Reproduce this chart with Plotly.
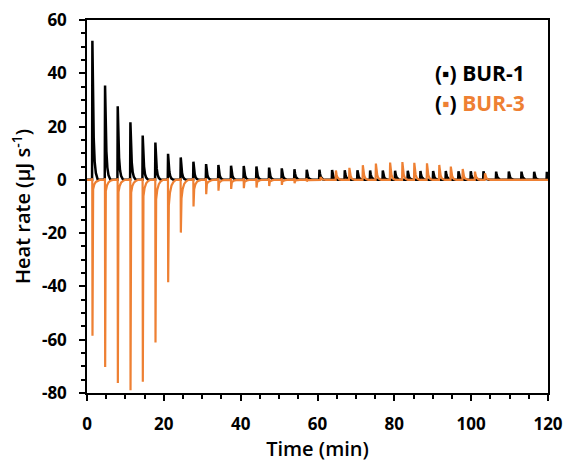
import plotly.graph_objects as go

# ---- data ----
# BUR-1 (black): injection times (min) and peak heights (µJ/s)
bur1_times = [1.4, 4.7, 8.0, 11.3, 14.5, 17.8, 21.1, 24.4, 27.7, 31.0, 34.2, 37.5,
              40.8, 44.1, 47.4, 50.7, 54.0, 57.2, 60.5, 63.8, 67.1, 70.4, 73.7, 77.0,
              80.2, 83.5, 86.8, 90.1, 93.4, 96.7, 99.9, 103.2, 106.5, 109.8, 113.1,
              116.4, 119.7]
bur1_peaks = [52.2, 35.4, 27.6, 21.6, 16.6, 14.0, 9.8, 8.4, 6.8, 5.9, 5.6, 5.3,
              5.2, 5.0, 4.6, 4.3, 4.0, 3.8, 3.8, 3.7, 3.6, 3.6, 3.5, 3.5,
              3.4, 3.4, 3.3, 3.3, 3.3, 3.2, 3.2, 3.2, 3.1, 3.1, 3.1, 3.0, 3.0]

# BUR-3 (orange): negative injection peaks, then small positive peaks
bur3_neg_times = [1.4, 4.7, 8.0, 11.3, 14.5, 17.8, 21.1, 24.4, 27.7, 31.0, 34.2,
                  37.5, 40.8, 44.1, 47.4, 50.7, 54.0, 57.2]
bur3_neg_peaks = [-58.5, -70.2, -76.2, -79.0, -75.8, -61.0, -38.4, -19.8, -10.0,
                  -5.4, -4.1, -3.4, -3.1, -2.9, -2.3, -1.9, -1.3, -0.6]
bur3_neg_tail = [0.06, 0.06, 0.06, 0.06, 0.08, 0.12, 0.25, 0.35, 0.35, 0.3, 0.25,
                 0.25, 0.25, 0.25, 0.25, 0.25, 0.25, 0.25]
bur3_pos_times = [60.8, 64.8, 68.3, 71.8, 75.2, 78.9, 82.1, 85.2, 88.5, 91.7, 94.7,
                  97.8, 101.0, 103.6]
bur3_pos_peaks = [1.0, 3.5, 4.5, 5.5, 6.1, 6.5, 6.7, 6.4, 6.2, 5.6, 5.0, 4.1, 3.1, 2.5]

x_ticks = [0, 20, 40, 60, 80, 100, 120]
y_ticks = [-80, -60, -40, -20, 0, 20, 40, 60]

BLACK = "#000000"
ORANGE = "#EE8033"

# peak profile templates (offset in min, fraction of height)
POS_SHAPE = [(-0.08, 0.0), (0.0, 1.0), (0.15, 0.6), (0.35, 0.3), (0.6, 0.13),
             (0.9, 0.05), (1.4, 0.0)]


def build_positive(times, peaks, start=0.0, end=121.0):
    xs, ys = [start], [0.0]
    for t, h in zip(times, peaks):
        for dt, f in POS_SHAPE:
            xs.append(t + dt)
            ys.append(h * f)
    xs.append(end)
    ys.append(0.0)
    return xs, ys


def build_bur3():
    events = []
    for t, h, fr in zip(bur3_neg_times, bur3_neg_peaks, bur3_neg_tail):
        pts = [(-0.1, 0.0), (-0.03, 0.6), (0.03, h), (0.2, fr * h),
               (0.5, 0.5 * fr * h), (0.9, 0.22 * fr * h), (1.4, 0.08 * fr * h),
               (2.0, 0.0)]
        events.append((t, pts))
    for t, h in zip(bur3_pos_times, bur3_pos_peaks):
        events.append((t, [(dt, f * h) for dt, f in POS_SHAPE]))
    events.sort(key=lambda e: e[0])
    xs, ys = [0.0], [0.0]
    for t, pts in events:
        for dt, v in pts:
            xs.append(t + dt)
            ys.append(v)
    xs.append(121.0)
    ys.append(0.0)
    return xs, ys


bx, by = build_positive(bur1_times, bur1_peaks)
ox, oy = build_bur3()

fig = go.Figure()
fig.add_trace(go.Scatter(x=bx, y=by, mode="lines", name="BUR-1",
                         line=dict(color=BLACK, width=2.5), showlegend=False))
fig.add_trace(go.Scatter(x=ox, y=oy, mode="lines", name="BUR-3",
                         line=dict(color=ORANGE, width=2.2), showlegend=False))

FONT = "Open Sans"

fig.add_annotation(
    xref="x", yref="y", x=114.6, y=40.2, xanchor="right", yanchor="middle",
    text="(▪) BUR-1",
    showarrow=False, font=dict(family=FONT, size=21, color=BLACK, weight=700))
fig.add_annotation(
    xref="x", yref="y", x=114.6, y=28.9, xanchor="right", yanchor="middle",
    text="<span style='color:#000000'>(</span>▪<span style='color:#000000'>)</span> BUR-3",
    showarrow=False, font=dict(family=FONT, size=21, color=ORANGE, weight=700))

fig.update_layout(
    width=565, height=463,
    margin=dict(l=87, r=17, t=20, b=70),
    paper_bgcolor="white", plot_bgcolor="white",
    font=dict(family=FONT, color=BLACK),
)
fig.update_xaxes(
    range=[0, 120], tickvals=x_ticks, ticktext=[str(v) for v in x_ticks],
    automargin=False, ticklabeloverflow="allow", ticklabelstandoff=9,
    showgrid=False, zeroline=False, showline=True, linecolor=BLACK, linewidth=1.5,
    mirror=True, ticks="outside", ticklen=6, tickwidth=1.5, tickcolor=BLACK,
    minor=dict(dtick=5, ticks="outside", ticklen=4, tickwidth=1.5, tickcolor=BLACK),
    tickfont=dict(family=FONT, size=17, color=BLACK, weight=700),
    title=dict(text="Time (min)", font=dict(family=FONT, size=20, color=BLACK, weight=600),
               standoff=8),
)
fig.update_yaxes(
    range=[-80, 60], tickvals=y_ticks, ticktext=[str(v) for v in y_ticks],
    automargin=False, ticklabeloverflow="allow", ticklabelstandoff=9,
    showgrid=False, zeroline=False, showline=True, linecolor=BLACK, linewidth=1.5,
    mirror=True, ticks="outside", ticklen=6, tickwidth=1.5, tickcolor=BLACK,
    minor=dict(dtick=5, ticks="outside", ticklen=4, tickwidth=1.5, tickcolor=BLACK),
    tickfont=dict(family=FONT, size=17, color=BLACK, weight=700),
    title=dict(text="Heat rate (μJ s<sup>-1</sup>)",
               font=dict(family=FONT, size=20, color=BLACK, weight=600), standoff=6),
)

# remove the default page margin so the figure fills the window exactly
fig.write_html("out.html",
               config={"displayModeBar": False},
               post_script="document.body.style.margin='0';"
                           "document.body.style.overflow='hidden';")
